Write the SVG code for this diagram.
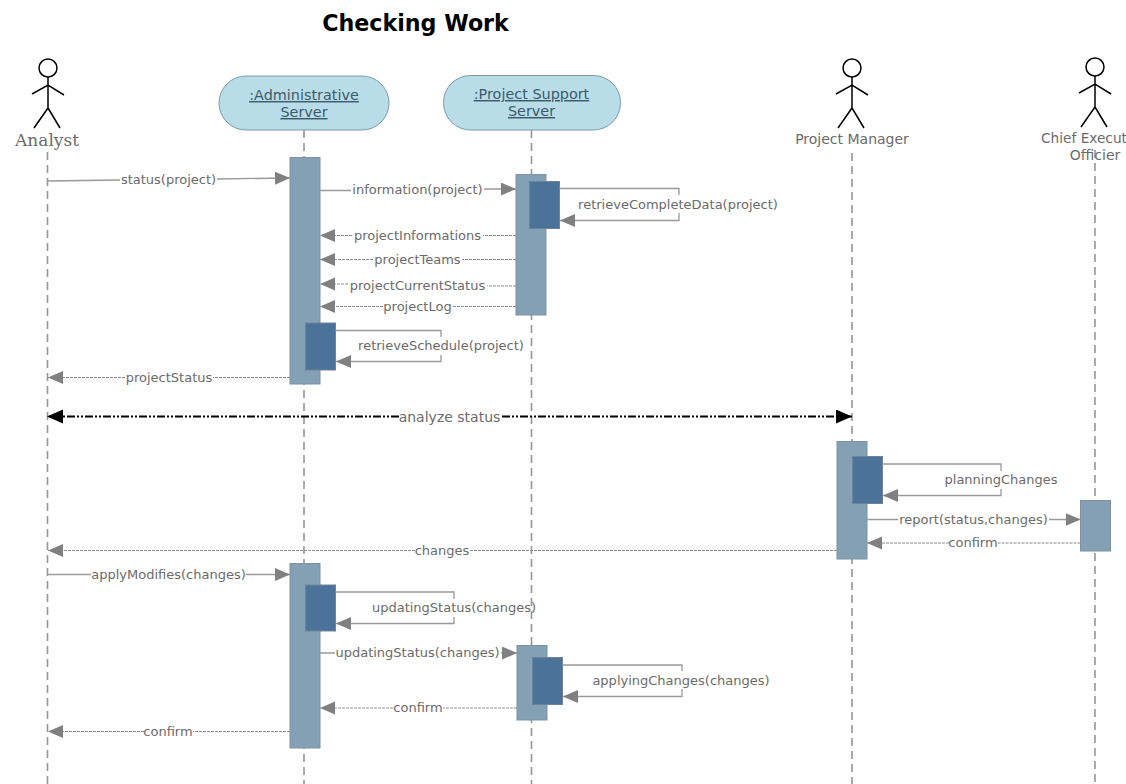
<svg xmlns="http://www.w3.org/2000/svg" width="1126" height="784" viewBox="0 0 1126 784">
<style>
text{font-family:"DejaVu Sans",sans-serif;font-size:13px;fill:#6b6b6b;text-anchor:middle}
.title{font-size:22.200px;font-weight:bold;fill:#000}
.an{font-family:"DejaVu Serif",serif;font-size:17px}
.big14{font-size:14px}
.u{text-decoration:underline;fill:#3c5a6a;font-size:14.400px}
.life{stroke:#969696;stroke-width:1.6;stroke-dasharray:8 5;fill:none}
.m{stroke:#9a9a9a;stroke-width:1.300;fill:none;marker-end:url(#a)}
.d{stroke:#8f8f8f;stroke-width:1;stroke-dasharray:3 1;fill:none;marker-end:url(#a)}
.big{stroke:#000;stroke-width:2;stroke-dasharray:8 2 2 2 2 2;fill:none;marker-end:url(#b);marker-start:url(#b)}
.act{fill:#84a0b5;stroke:#7f929f;stroke-width:1}
.in{fill:#4b7399;stroke:#6c8497;stroke-width:1}
.pill{fill:#b8dde9;stroke:#7d9aa3;stroke-width:1}
.fig{fill:none;stroke:#000;stroke-width:1.500}
</style>
<defs>
<marker id="a" markerUnits="userSpaceOnUse" markerWidth="16" markerHeight="14" refX="15" refY="6.500" orient="auto-start-reverse"><path d="M0 0L15 6.500L0 13Z" fill="#808080"/></marker>
<marker id="b" markerUnits="userSpaceOnUse" markerWidth="17" markerHeight="16" refX="16" refY="7" orient="auto-start-reverse"><path d="M0 0L16 7L0 14Z" fill="#000"/></marker>
<g id="fig"><circle cx="0" cy="0" r="9" class="fig"/><path d="M0 9V40M-16 26L0 17L16 27M-14 60L0 40L12 60" class="fig"/></g>
</defs>
<text class="title" x="415.500" y="31">Checking Work</text>
<g id="lifelines">
<path class="life" d="M47.500 152V784"/>
<path class="life" d="M304 130V784"/>
<path class="life" d="M531.500 130V784"/>
<path class="life" d="M852 153V784"/>
<path class="life" d="M1095 150V784"/>
</g>
<g id="analyst"><use href="#fig" x="48" y="68"/><text class="an" x="47" y="146">Analyst</text></g>
<g id="admin"><rect class="pill" x="219" y="76" width="170" height="54" rx="27"/><text class="u" x="304" y="100">:Administrative</text><text class="u" x="304" y="117">Server</text></g>
<g id="support"><rect class="pill" x="443.500" y="75.500" width="177" height="54.500" rx="27"/><text class="u" x="531.500" y="99">:Project Support</text><text class="u" x="531.500" y="116">Server</text></g>
<g id="manager"><use href="#fig" x="852" y="68"/><text class="big14" x="852" y="144">Project Manager</text></g>
<g id="ceo"><use href="#fig" x="1095" y="67"/><text x="1041" y="143" style="text-anchor:start;font-size:13.700px">Chief Execut</text><text class="big14" x="1095" y="160">Officier</text></g>
<g id="activations">
<rect class="act" x="290" y="157.500" width="30" height="226.500"/>
<rect class="act" x="516" y="174.500" width="30" height="140.500"/>
<rect class="in" x="529.500" y="181.500" width="30" height="47"/>
<rect class="in" x="305.500" y="323" width="30" height="47"/>
<rect class="act" x="837" y="441.500" width="30" height="117.500"/>
<rect class="in" x="852.500" y="456.500" width="30" height="47"/>
<rect class="act" x="1080.500" y="500.500" width="30" height="50.500"/>
<rect class="act" x="290" y="563.500" width="30" height="184.500"/>
<rect class="in" x="305.500" y="585" width="30" height="46"/>
<rect class="act" x="517" y="645.500" width="30" height="74.500"/>
<rect class="in" x="532.500" y="657.500" width="30" height="47"/>
</g>
<g id="connectors">
<path class="m" d="M48 181L120 180M217 179L290 178"/>
<path class="m" d="M320 190.500H351M484 189H516"/>
<path class="m" d="M559.500 188.500H679V195M679 213V220.500H560"/>
<path class="d" d="M516 235.500H483M352 235.500H320"/>
<path class="d" d="M516 259.500H462M373 259.500H320"/>
<path class="d" d="M516 286H487M348 284H320"/>
<path class="d" d="M516 306.500H452M383 306.500H320"/>
<path class="m" d="M335.500 330.500H441V337M441 355V361.500H336"/>
<path class="d" d="M290 377.500H213M125 377.500H48"/>
<path class="big" d="M852 416.500H500M399 416.500H47"/>
<path class="m" d="M882.500 464H1001V471M1001 489V495.500H883"/>
<path class="m" d="M867 519.500H898M1049 519.500H1080.500"/>
<path class="d" d="M1080.500 543H998M949 543H867"/>
<path class="d" d="M837 550.500H469M415 550.500H48"/>
<path class="m" d="M48 574.500H91M246 574.500H290"/>
<path class="m" d="M335.500 592H454V599M454 617V623.500H336"/>
<path class="m" d="M320 653H335M501 653H517"/>
<path class="m" d="M562.500 665H682V671M682 689V696.500H563"/>
<path class="d" d="M517 708H443M393 708H320"/>
<path class="d" d="M290 731.500H193M144 731.500H48"/>
</g>
<g id="labels">
<text x="168.500" y="184">status(project)</text>
<text x="417.500" y="194">information(project)</text>
<text x="678" y="209">retrieveCompleteData(project)</text>
<text x="417.500" y="240">projectInformations</text>
<text x="417.500" y="264">projectTeams</text>
<text x="417.500" y="290">projectCurrentStatus</text>
<text x="417.500" y="311">projectLog</text>
<text x="441" y="350">retrieveSchedule(project)</text>
<text x="169" y="382">projectStatus</text>
<text class="big14" x="449.500" y="422">analyze status</text>
<text x="1001" y="484">planningChanges</text>
<text x="973.500" y="524">report(status,changes)</text>
<text x="973" y="547">confirm</text>
<text x="442" y="555">changes</text>
<text x="168.500" y="579">applyModifies(changes)</text>
<text x="454" y="612">updatingStatus(changes)</text>
<text x="417.500" y="657">updatingStatus(changes)</text>
<text x="681" y="685">applyingChanges(changes)</text>
<text x="418" y="712">confirm</text>
<text x="168" y="736">confirm</text>
</g>
</svg>
